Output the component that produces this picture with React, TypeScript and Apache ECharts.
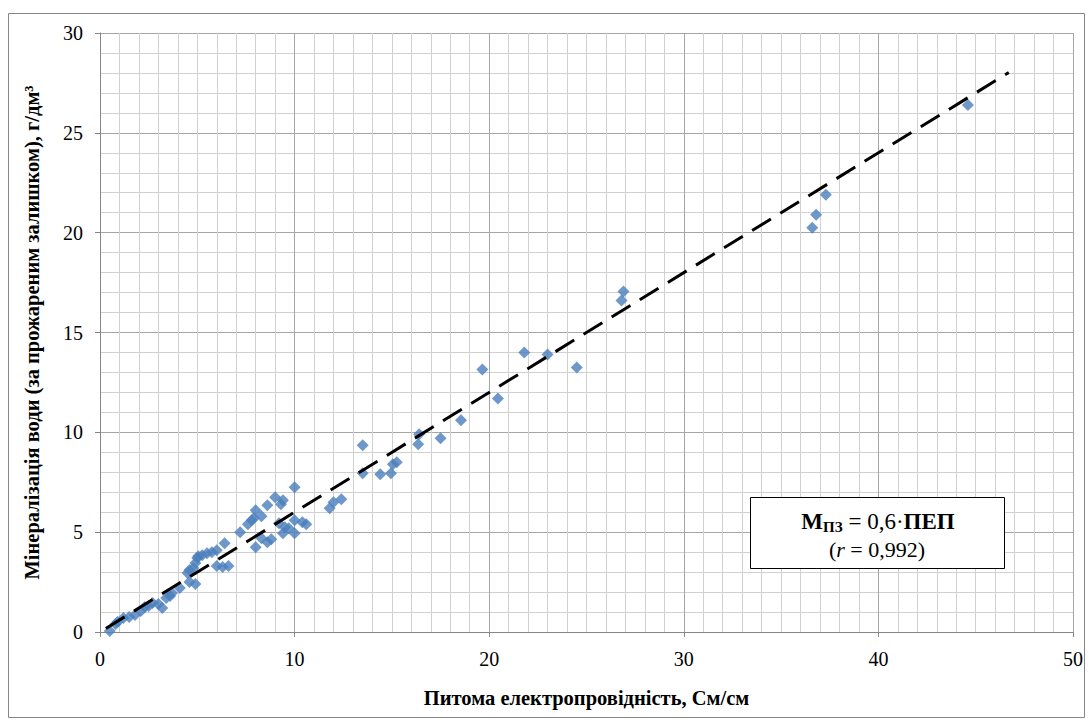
import React, { useEffect, useRef } from "react";
import * as echarts from "echarts";

// Питома електропровідність (См/см) vs мінералізація (г/дм³)
const pepValues: number[] = [
  0.5, 0.8, 0.9, 1.2, 1.5, 1.8, 2.1, 2.3, 2.5, 2.7, 3.0, 3.2, 3.4, 3.6, 3.7,
  4.1, 4.6, 4.9, 4.5, 4.6, 4.8, 4.9, 5.0, 5.05, 5.25, 5.5, 5.75, 6.0, 6.0, 6.3,
  6.6, 6.4, 7.2, 7.6, 7.8, 7.9, 8.0, 8.3, 8.0, 8.3, 8.6, 8.8, 8.6, 9.0, 9.4,
  9.3, 9.2, 9.5, 9.7, 9.4, 10.0, 10.0, 10.4, 10.6, 10.0, 11.8, 12.0, 12.4,
  13.5, 13.5, 14.4, 14.95, 15.05, 15.25, 16.35, 16.4, 17.5, 18.55, 19.65,
  20.45, 21.8, 23.0, 24.5, 26.8, 26.9, 36.6, 36.8, 37.3, 44.6,
];
const mineralValues: number[] = [
  0.05, 0.4, 0.5, 0.7, 0.75, 0.85, 1.05, 1.25, 1.3, 1.45, 1.4, 1.2, 1.7, 1.8,
  1.95, 2.2, 2.5, 2.4, 2.95, 3.1, 3.2, 3.45, 3.7, 3.8, 3.85, 3.95, 4.0, 4.1,
  3.3, 3.25, 3.3, 4.45, 5.0, 5.4, 5.6, 5.7, 6.1, 5.8, 4.25, 4.7, 4.5, 4.65,
  6.35, 6.75, 6.6, 6.4, 5.45, 5.25, 5.2, 4.95, 4.95, 5.6, 5.5, 5.4, 7.25, 6.2,
  6.5, 6.65, 7.95, 9.35, 7.9, 7.95, 8.4, 8.5, 9.4, 9.9, 9.7, 10.6, 13.15, 11.7,
  14.0, 13.9, 13.25, 16.6, 17.05, 20.25, 20.9, 21.9, 26.4,
];
const trendX: number[] = [0.3, 46.7];
const trendSlope = 0.6;
const xTicks = { min: 0, max: 50, interval: 10 };
const yTicks = { min: 0, max: 30, interval: 5 };

const FONT = "Liberation Serif";

export default function App() {
  const ref = useRef<HTMLDivElement>(null);
  useEffect(() => {
    if (!ref.current) return;
    const chart = echarts.init(ref.current, undefined, { renderer: "svg" });
    const points = pepValues.map((x, i) => [x, mineralValues[i]]);
    const trend = trendX.map((x) => [x, +(x * trendSlope).toFixed(3)]);
    chart.setOption({
      animation: false,
      backgroundColor: "#ffffff",
      textStyle: { fontFamily: FONT },
      grid: { left: 100, right: 15, top: 33, bottom: 88 },
      xAxis: {
        type: "value",
        min: xTicks.min,
        max: xTicks.max,
        interval: xTicks.interval,
        name: "Питома електропровідність, См/см",
        nameLocation: "middle",
        nameGap: 55,
        nameTextStyle: { fontFamily: FONT, fontWeight: "bold", fontSize: 20.5, color: "#000" },
        axisLine: { show: true, lineStyle: { color: "#868686", width: 1 } },
        axisTick: { show: true, length: 5, inside: false, lineStyle: { color: "#868686" } },
        minorTick: { show: false, splitNumber: 10 },
        axisLabel: { fontFamily: FONT, fontSize: 20, color: "#000", margin: 17 },
        splitLine: { show: true, lineStyle: { color: "#a6a6a6", width: 1 } },
        minorSplitLine: { show: true, lineStyle: { color: "#d0d0d0", width: 1 } },
      },
      yAxis: {
        type: "value",
        min: yTicks.min,
        max: yTicks.max,
        interval: yTicks.interval,
        name: "Мінералізація води (за прожареним залишком), г/дм³",
        nameLocation: "middle",
        nameGap: 58,
        nameTextStyle: { fontFamily: FONT, fontWeight: "bold", fontSize: 20.5, color: "#000" },
        axisLine: { show: true, lineStyle: { color: "#868686", width: 1 } },
        axisTick: { show: true, length: 5, inside: false, lineStyle: { color: "#868686" } },
        minorTick: { show: false, splitNumber: 5 },
        axisLabel: { fontFamily: FONT, fontSize: 20, color: "#000", margin: 17 },
        splitLine: { show: true, lineStyle: { color: "#a6a6a6", width: 1 } },
        minorSplitLine: { show: true, lineStyle: { color: "#d0d0d0", width: 1 } },
      },
      series: [
        {
          type: "scatter",
          data: points,
          symbol: "diamond",
          symbolSize: 12,
          itemStyle: { color: "#4a7ebb" },
          z: 3,
        },
        {
          type: "line",
          data: trend,
          symbol: "none",
          lineStyle: { color: "#000", width: 3, type: [22, 11] },
          z: 4,
        },
      ],
      graphic: [
        {
          type: "rect",
          shape: { x: 8.5, y: 13.5, width: 1076, height: 704 },
          style: { fill: "none", stroke: "#868686", lineWidth: 1 },
          silent: true,
        },
        {
          type: "rect",
          shape: { x: 750.5, y: 497.5, width: 254, height: 71 },
          style: { fill: "#fff", stroke: "#000", lineWidth: 1 },
          z: 10,
        },
        {
          type: "text",
          x: 878,
          y: 521,
          z: 11,
          style: {
            text: "{b|М}{s|ПЗ}{n| = 0,6·}{b|ПЕП}",
            align: "center",
            verticalAlign: "middle",
            rich: {
              b: { fontFamily: FONT, fontWeight: "bold", fontSize: 23, lineHeight: 26, verticalAlign: "middle", fill: "#000" },
              s: { fontFamily: FONT, fontWeight: "bold", fontSize: 15, lineHeight: 15, verticalAlign: "bottom", fill: "#000" },
              n: { fontFamily: FONT, fontSize: 23, lineHeight: 26, verticalAlign: "middle", fill: "#000" },
            },
          },
        },
        {
          type: "text",
          x: 877,
          y: 549,
          z: 11,
          style: {
            text: "{n|(}{i|r}{n| = 0,992)}",
            align: "center",
            verticalAlign: "middle",
            rich: {
              n: { fontFamily: FONT, fontSize: 22, fill: "#000" },
              i: { fontFamily: FONT, fontSize: 22, fontStyle: "italic", fill: "#000" },
            },
          },
        },
      ],
    });
    return () => chart.dispose();
  }, []);
  return (
    <div
      ref={ref}
      style={{ position: "absolute", left: 0, top: 0, width: 1088, height: 720 }}
    />
  );
}
